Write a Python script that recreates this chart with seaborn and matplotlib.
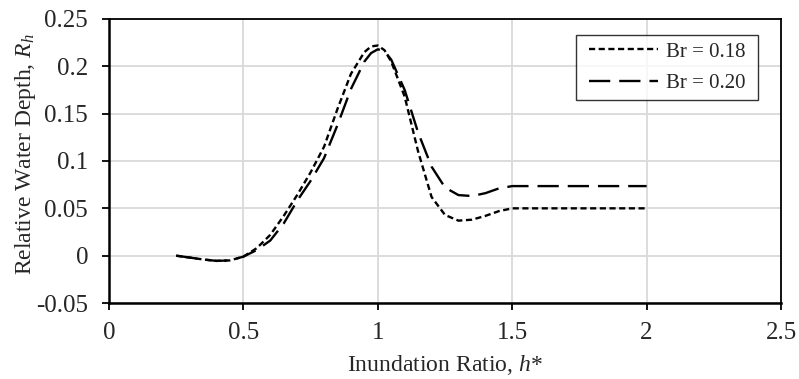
import matplotlib
matplotlib.use("Agg")
import matplotlib.pyplot as plt
import seaborn as sns
import pandas as pd

# Data
h_018 = [0.25, 0.30, 0.35, 0.40, 0.45, 0.50, 0.55, 0.60, 0.65, 0.70, 0.75, 0.80,
         0.85, 0.90, 0.95, 0.975, 1.00, 1.025, 1.05, 1.10, 1.15, 1.20, 1.25, 1.30,
         1.35, 1.40, 1.45, 1.50, 2.00]
r_018 = [0.0, -0.002, -0.004, -0.0055, -0.005, -0.001, 0.008, 0.022, 0.042, 0.064,
         0.088, 0.115, 0.155, 0.192, 0.215, 0.221, 0.222, 0.217, 0.205, 0.168, 0.110,
         0.062, 0.043, 0.037, 0.038, 0.042, 0.047, 0.050, 0.050]

h_020 = [0.25, 0.30, 0.35, 0.40, 0.45, 0.50, 0.55, 0.60, 0.65, 0.70, 0.75, 0.80,
         0.85, 0.90, 0.95, 0.975, 1.00, 1.025, 1.05, 1.10, 1.15, 1.20, 1.25, 1.30,
         1.35, 1.40, 1.45, 1.50, 2.00]
r_020 = [0.0, -0.002, -0.004, -0.0055, -0.005, -0.001, 0.006, 0.016, 0.034, 0.058,
         0.079, 0.103, 0.138, 0.176, 0.205, 0.214, 0.218, 0.216, 0.207, 0.175, 0.130,
         0.094, 0.072, 0.064, 0.063, 0.066, 0.071, 0.0735, 0.0735]

series_labels = ["Br = 0.18", "Br = 0.20"]
x_ticks = [0, 0.5, 1, 1.5, 2, 2.5]
y_ticks = [-0.05, 0, 0.05, 0.1, 0.15, 0.2, 0.25]
x_tick_labels = ["0", "0.5", "1", "1.5", "2", "2.5"]
y_tick_labels = ["-0.05", "0", "0.05", "0.1", "0.15", "0.2", "0.25"]

df = pd.concat([
    pd.DataFrame({"h": h_018, "R": r_018, "Series": series_labels[0]}),
    pd.DataFrame({"h": h_020, "R": r_020, "Series": series_labels[1]}),
])

sns.set_theme(style="white")
plt.rcParams["font.family"] = ["Liberation Serif", "DejaVu Serif"]
plt.rcParams["mathtext.fontset"] = "custom"
plt.rcParams["mathtext.rm"] = "Liberation Serif"
plt.rcParams["mathtext.it"] = "Liberation Serif:italic"

fig = plt.figure(figsize=(7.99, 3.79), dpi=100)
ax = fig.add_axes([0.1364, 0.2005, 0.8411, 0.7494])

sns.lineplot(data=df, x="h", y="R", hue="Series", style="Series",
             palette=["black", "black"],
             dashes={series_labels[0]: (2.6, 1.5), series_labels[1]: (9.0, 3.8)},
             linewidth=1.7, sort=False, estimator=None, ax=ax)

ax.set_xlim(0, 2.5)
ax.set_ylim(-0.05, 0.25)
ax.set_xticks(x_ticks)
ax.set_xticklabels(x_tick_labels)
ax.set_yticks(y_ticks)
ax.set_yticklabels(y_tick_labels)
ax.grid(True, color="#d9d9d9", linewidth=1.3)
ax.set_axisbelow(True)

for side in ["left", "bottom"]:
    ax.spines[side].set_color("black")
    ax.spines[side].set_linewidth(1.8)
for side in ["top", "right"]:
    ax.spines[side].set_color("black")
    ax.spines[side].set_linewidth(1.3)

ax.tick_params(axis="both", which="major", direction="out", length=5, width=1.3,
               color="black", labelsize=18, bottom=True, left=True)
ax.tick_params(axis="x", pad=9)
ax.tick_params(axis="y", pad=10)

ax.set_xlabel(r"Inundation Ratio, $h$*", fontsize=17, labelpad=6)
ax.set_ylabel(r"Relative Water Depth, $R_h$", fontsize=17, labelpad=-1)
ax.yaxis.label.set_y(0.525)

leg = ax.legend(loc="upper right", bbox_to_anchor=(0.958, 0.944), fontsize=15,
                frameon=True, fancybox=False, edgecolor="black",
                handlelength=3.3, borderpad=0.35, labelspacing=0.55,
                handletextpad=0.4, borderaxespad=0)
leg.get_frame().set_linewidth(1.0)
leg.legendPatch.set_boxstyle("square", pad=0.25)
leg.legendPatch.set_mutation_aspect(0.001)
leg.set_title(None)

fig.savefig("out.png", dpi=100, facecolor="white")
